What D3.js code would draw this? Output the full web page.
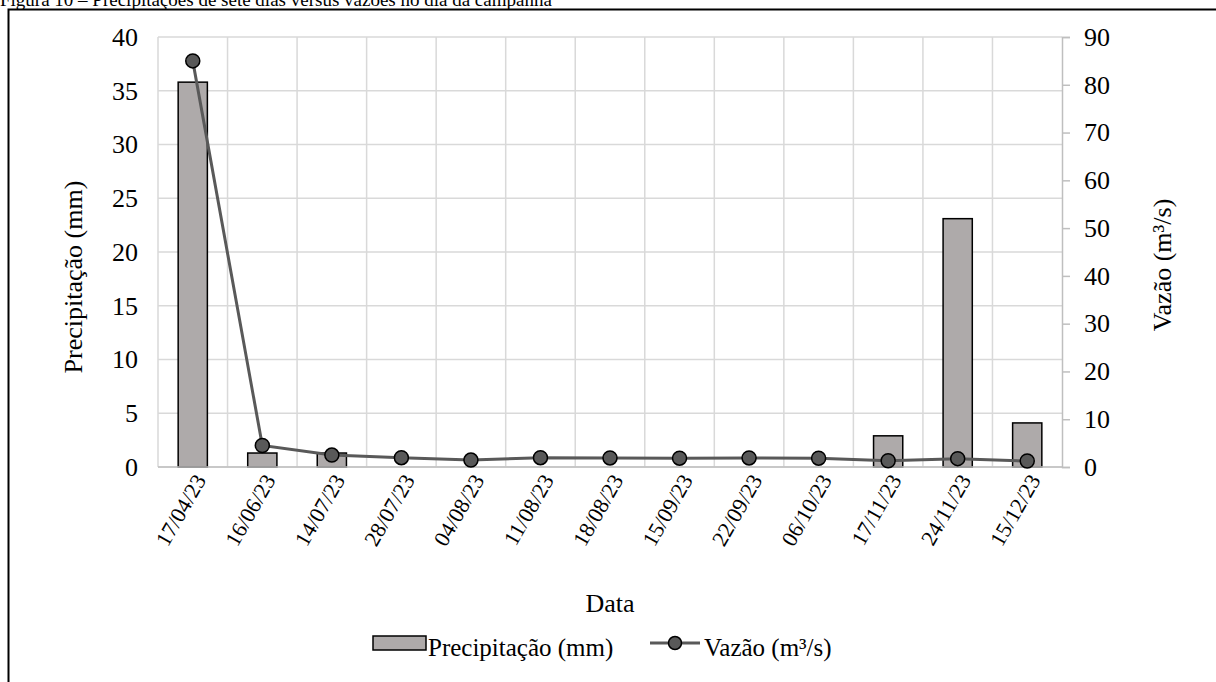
<!DOCTYPE html>
<html>
<head>
<meta charset="utf-8">
<script src="https://cdn.jsdelivr.net/npm/d3@7"></script>
<style>
  body { margin: 0; background: #fff; }
  svg text { font-family: "Liberation Serif", "Times New Roman", "DejaVu Serif", serif !important; fill: #000; }
</style>
</head>
<body>
<div id="chart"></div>
<script>
var datas = ["17/04/23", "16/06/23", "14/07/23", "28/07/23", "04/08/23", "11/08/23", "18/08/23",
             "15/09/23", "22/09/23", "06/10/23", "17/11/23", "24/11/23", "15/12/23"];
var precipitacao = [35.8, 1.3, 1.3, 0, 0, 0, 0, 0, 0, 0, 2.9, 23.1, 4.1];
var vazao = [85.0, 4.5, 2.5, 1.95, 1.45, 1.95, 1.9, 1.85, 1.9, 1.85, 1.3, 1.75, 1.25];
var leftTicks = [0, 5, 10, 15, 20, 25, 30, 35, 40];
var rightTicks = [0, 10, 20, 30, 40, 50, 60, 70, 80, 90];

var W = 1216, H = 682;
var margin = { top: 37, right: 154, bottom: 215, left: 158 };
var width = W - margin.left - margin.right;
var height = H - margin.top - margin.bottom;
var serif = "'Liberation Serif', 'Times New Roman', serif";
var fs = "26px";

var svg = d3.select("#chart").append("svg")
    .attr("width", W)
    .attr("height", H)
    .attr("font-family", serif);

// caption, cut off at the top edge like in the original
svg.append("text")
    .attr("x", 0)
    .attr("y", 6)
    .style("font-size", "19px")
    .text("Figura 10 – Precipitações de sete dias versus vazões no dia da campanha");

// frame
svg.append("path")
    .attr("d", "M8.5," + H + " L8.5,9.5 L" + W + ",9.5")
    .attr("fill", "none")
    .attr("stroke", "#000")
    .attr("stroke-width", 2);

var g = svg.append("g")
    .attr("transform", "translate(" + margin.left + "," + margin.top + ")");

var x = d3.scaleBand().domain(datas).range([0, width]);
var yL = d3.scaleLinear().domain([0, 40]).range([height, 0]);
var yR = d3.scaleLinear().domain([0, 90]).range([height, 0]);

// gridlines
g.selectAll(".hgrid").data(leftTicks).enter().append("line")
    .attr("x1", 0).attr("x2", width)
    .attr("y1", function(d) { return yL(d); })
    .attr("y2", function(d) { return yL(d); })
    .attr("stroke", "#d9d9d9").attr("stroke-width", 1.5);
g.selectAll(".vgrid").data(datas).enter().append("line")
    .attr("x1", function(d) { return x(d); })
    .attr("x2", function(d) { return x(d); })
    .attr("y1", 0).attr("y2", height)
    .attr("stroke", "#d9d9d9").attr("stroke-width", 1.5);

// bars
var bw = x.bandwidth() * 0.42;
g.selectAll(".bar").data(datas).enter().append("rect")
    .filter(function(d, i) { return precipitacao[i] > 0; })
    .attr("x", function(d) { return x(d) + x.bandwidth() / 2 - bw / 2; })
    .attr("y", function(d) { return yL(precipitacao[datas.indexOf(d)]); })
    .attr("width", bw)
    .attr("height", function(d) { return height - yL(precipitacao[datas.indexOf(d)]); })
    .attr("fill", "#aeaaaa")
    .attr("stroke", "#000")
    .attr("stroke-width", 1.5);

// bottom axis line
g.append("line")
    .attr("x1", 0).attr("x2", width)
    .attr("y1", height).attr("y2", height)
    .attr("stroke", "#bfbfbf").attr("stroke-width", 1.5);

// right axis
var rAxis = g.append("g")
    .attr("transform", "translate(" + width + ",0)")
    .call(d3.axisRight(yR).tickValues(rightTicks).tickSize(8).tickPadding(14));
rAxis.attr("font-family", serif).attr("font-size", null);
rAxis.select(".domain").attr("stroke", "#bfbfbf").attr("stroke-width", 1.5);
rAxis.selectAll(".tick line").attr("stroke", "#bfbfbf").attr("stroke-width", 1.5);
rAxis.selectAll(".tick text").style("font-size", fs);

// left axis (labels only)
var lAxis = g.append("g")
    .call(d3.axisLeft(yL).tickValues(leftTicks).tickSize(0).tickPadding(20));
lAxis.attr("font-family", serif).attr("font-size", null);
lAxis.select(".domain").remove();
lAxis.selectAll(".tick text").style("font-size", fs);

// x labels
var xAxis = g.append("g")
    .attr("transform", "translate(0," + height + ")")
    .call(d3.axisBottom(x).tickSize(0).tickPadding(0));
xAxis.attr("font-family", serif).attr("font-size", null);
xAxis.select(".domain").remove();
xAxis.selectAll(".tick text")
    .style("font-size", "22px")
    .attr("text-anchor", "end")
    .attr("dy", null)
    .attr("transform", "translate(14,13) rotate(-60)");

// line + dots
var line = d3.line()
    .x(function(d, i) { return x(datas[i]) + x.bandwidth() / 2; })
    .y(function(d) { return yR(d); });
g.append("path")
    .datum(vazao)
    .attr("d", line)
    .attr("fill", "none")
    .attr("stroke", "#595959")
    .attr("stroke-width", 3);
g.selectAll(".dot").data(vazao).enter().append("circle")
    .attr("cx", function(d, i) { return x(datas[i]) + x.bandwidth() / 2; })
    .attr("cy", function(d) { return yR(d); })
    .attr("r", 7)
    .attr("fill", "#595959")
    .attr("stroke", "#000")
    .attr("stroke-width", 1.5);

// axis titles
svg.append("text")
    .attr("transform", "translate(82,277) rotate(-90)")
    .attr("text-anchor", "middle")
    .style("font-size", fs)
    .text("Precipitação (mm)");
svg.append("text")
    .attr("transform", "translate(1171,265) rotate(-90)")
    .attr("text-anchor", "middle")
    .style("font-size", fs)
    .text("Vazão (m³/s)");
svg.append("text")
    .attr("x", margin.left + width / 2)
    .attr("y", 612)
    .attr("text-anchor", "middle")
    .style("font-size", fs)
    .text("Data");

// legend
var leg = svg.append("g").attr("transform", "translate(0,643)");
leg.append("rect")
    .attr("x", 373).attr("y", -7)
    .attr("width", 53).attr("height", 14)
    .attr("fill", "#aeaaaa").attr("stroke", "#000").attr("stroke-width", 1.5);
leg.append("text")
    .attr("x", 428).attr("y", 13)
    .style("font-size", "25px")
    .text("Precipitação (mm)");
leg.append("line")
    .attr("x1", 650).attr("x2", 700)
    .attr("y1", 0).attr("y2", 0)
    .attr("stroke", "#595959").attr("stroke-width", 3);
leg.append("circle")
    .attr("cx", 675).attr("cy", 0).attr("r", 6.5)
    .attr("fill", "#595959").attr("stroke", "#000").attr("stroke-width", 1.5);
leg.append("text")
    .attr("x", 704).attr("y", 13)
    .style("font-size", "25px")
    .text("Vazão (m³/s)");
</script>
</body>
</html>
